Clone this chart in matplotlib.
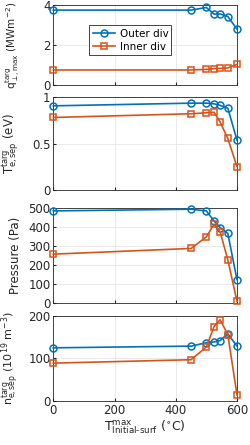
import numpy as np
import matplotlib.pyplot as plt

T_surf = [0, 450, 500, 525, 545, 570, 600]

q_outer = [3.74, 3.74, 3.87, 3.54, 3.55, 3.42, 2.79]
q_inner = [0.75, 0.75, 0.78, 0.82, 0.83, 0.85, 1.03]

Te_outer = [0.905, 0.934, 0.934, 0.927, 0.91, 0.88, 0.536]
Te_inner = [0.78, 0.82, 0.83, 0.836, 0.73, 0.555, 0.25]

p_outer = [486, 495, 486, 433, 398, 367, 123]
p_inner = [258, 288, 349, 416, 375, 228, 9]

ne_outer = [125, 129, 137, 139, 142, 158, 129]
ne_inner = [89, 97, 127, 175, 191, 156, 14]

blue = '#0072BD'
red = '#D95319'

plt.rcParams['font.family'] = ['DejaVu Sans']
plt.rcParams['mathtext.fontset'] = 'dejavusans'

fig = plt.figure(figsize=(2.5, 4.45), dpi=100)
left, width = 0.213, 0.735
boxes = [(0.809, 0.180), (0.573, 0.209), (0.319, 0.213), (0.099, 0.191)]
series = [(q_outer, q_inner), (Te_outer, Te_inner), (p_outer, p_inner), (ne_outer, ne_inner)]
ylims = [(0, 4), (0, 1), (0, 500), (0, 200)]
yticks = [[0, 2, 4], [0, 0.5, 1], [0, 100, 200, 300, 400, 500], [0, 100, 200]]
yticklabels = [['0', '2', '4'], ['0', '0.5', '1'], None, None]
ylabels = [r'$\mathregular{q_{\perp,max}^{targ}}$ (MWm$\mathregular{^{-2}}$)',
           r'$\mathregular{T_{e,sep}^{targ}}$ (eV)',
           'Pressure (Pa)',
           r'$\mathregular{n_{e,sep}^{targ}}$ (10$\mathregular{^{19}}$ m$\mathregular{^{-3}}$)']
ysizes = [7.5, 8.5, 8.5, 8.0]

axes = []
for i in range(4):
    ax = fig.add_axes([left, boxes[i][0], width, boxes[i][1]])
    outer, inner = series[i]
    ax.plot(T_surf, outer, '-o', color=blue, mfc='none', mec=blue, ms=5, lw=1.2,
            mew=1.1, label='Outer div', clip_on=False, zorder=3)
    ax.plot(T_surf, inner, '-s', color=red, mfc='none', mec=red, ms=5, lw=1.2,
            mew=1.1, label='Inner div', clip_on=False, zorder=3)
    ax.set_xlim(0, 600)
    ax.set_ylim(*ylims[i])
    ax.set_xticks([0, 200, 400, 600])
    ax.set_yticks(yticks[i])
    if yticklabels[i] is not None:
        ax.set_yticklabels(yticklabels[i])
    ax.grid(True, color='#e6e6e6', lw=0.6)
    ax.set_axisbelow(True)
    ax.tick_params(direction='in', length=2.5, labelsize=8.5, colors='#262626', pad=2)
    for s in ax.spines.values():
        s.set_color('#262626')
        s.set_linewidth(0.6)
    ax.set_ylabel(ylabels[i], fontsize=ysizes[i], color='#262626', labelpad=1)
    if i < 3:
        ax.set_xticklabels([])
    axes.append(ax)

axes[0].legend(loc='center', bbox_to_anchor=(0.42, 0.56), fontsize=7.5, frameon=True,
               fancybox=False, edgecolor='#262626', framealpha=1, handlelength=2.2,
               borderpad=0.3, labelspacing=0.3, handletextpad=0.4)
axes[0].get_legend().get_frame().set_linewidth(0.6)
axes[3].set_xlabel(r'$\mathregular{T_{Initial\text{-}surf}^{max}}$ ($\mathregular{^{\circ}}$C)',
                   fontsize=9, color='#262626', labelpad=1)

for ax in axes:
    ax.yaxis.set_label_coords(-0.17, 0.5)

fig.savefig('out.png', dpi=100)
